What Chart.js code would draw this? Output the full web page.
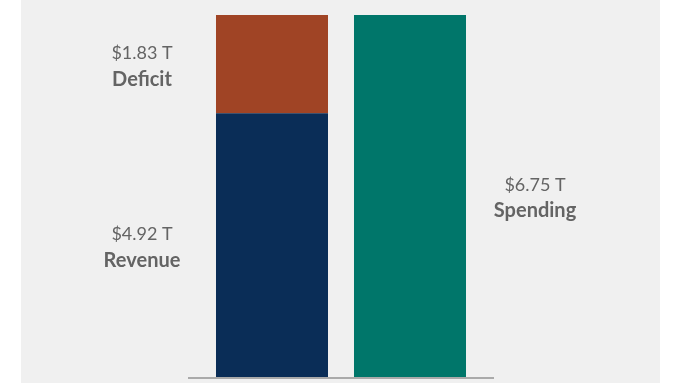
<!DOCTYPE html>
<html>
<head>
<meta charset="utf-8">
<script src="https://cdn.jsdelivr.net/npm/chart.js@4"></script>
<style>
  html, body { margin: 0; padding: 0; background: #ffffff; }
  #bg { position: absolute; left: 21px; top: 0; width: 639px; height: 383px; background: #f0f0f0; }
  #c { position: absolute; left: 0; top: 0; }
</style>
</head>
<body>
<div id="bg"></div>
<canvas id="c" width="680" height="383"></canvas>
<script>
const categories = ['Revenue + Deficit', 'Spending'];
const revenueValues = [4.92, null];
const deficitValues = [1.83, null];
const spendingValues = [null, 6.75];
const valueLabels = { Revenue: '$4.92 T', Deficit: '$1.83 T', Spending: '$6.75 T' };
const labelSide = { Revenue: 'left', Deficit: 'left', Spending: 'right' };

const FONT = 'Lato, "Open Sans", sans-serif';

const baselinePlugin = {
  id: 'baseline',
  afterDatasetsDraw(chart) {
    const { ctx, chartArea, scales } = chart;
    const y = scales.y.getPixelForValue(0) + 1;
    ctx.save();
    ctx.strokeStyle = '#aaaaaa';
    ctx.lineWidth = 2;
    ctx.beginPath();
    ctx.moveTo(chartArea.left - 15, y);
    ctx.lineTo(chartArea.right + 15, y);
    ctx.stroke();
    ctx.restore();
  }
};

const labelPlugin = {
  id: 'sideLabels',
  afterDatasetsDraw(chart) {
    const { ctx } = chart;
    ctx.save();
    ctx.fillStyle = '#646464';
    ctx.textAlign = 'center';
    ctx.textBaseline = 'middle';
    chart.data.datasets.forEach((ds, i) => {
      const meta = chart.getDatasetMeta(i);
      meta.data.forEach((bar, j) => {
        if (ds.data[j] == null) return;
        const props = bar.getProps(['x', 'y', 'base', 'width'], true);
        const cy = (props.y + props.base) / 2;
        const side = labelSide[ds.label];
        const cx = side === 'left' ? props.x - props.width / 2 - 74 : props.x + props.width / 2 + 69;
        ctx.font = '400 18px ' + FONT;
        ctx.fillText(valueLabels[ds.label], cx, cy - 11);
        ctx.font = '700 20px ' + FONT;
        ctx.fillText(ds.label, cx, cy + 15);
      });
    });
    ctx.restore();
  }
};

new Chart(document.getElementById('c'), {
  type: 'bar',
  data: {
    labels: categories,
    datasets: [
      { label: 'Revenue', data: revenueValues, backgroundColor: '#0a2d57' },
      { label: 'Deficit', data: deficitValues, backgroundColor: '#a04425' },
      { label: 'Spending', data: spendingValues, backgroundColor: '#00766a' }
    ]
  },
  options: {
    responsive: false,
    animation: false,
    layout: { padding: { left: 203, right: 201, top: 15, bottom: 6 } },
    plugins: { legend: { display: false }, tooltip: { enabled: false } },
    datasets: { bar: { barPercentage: 0.8116, categoryPercentage: 1, borderWidth: 0 } },
    scales: {
      x: { stacked: true, display: false },
      y: { stacked: true, display: false, min: 0, max: 6.75 }
    }
  },
  plugins: [baselinePlugin, labelPlugin]
});
</script>
</body>
</html>
